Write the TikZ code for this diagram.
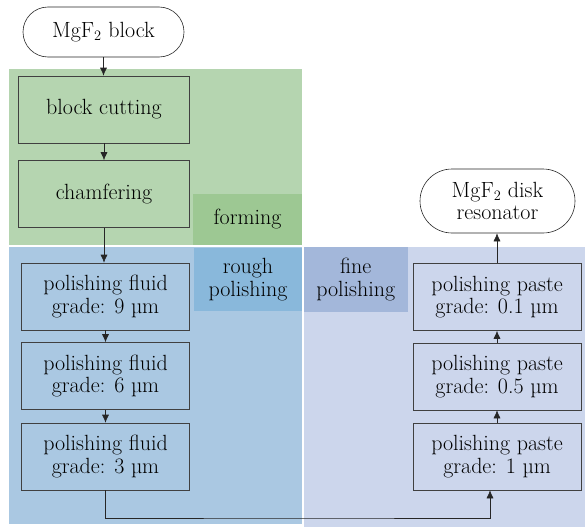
\documentclass[tikz,border=0pt]{standalone}
\usepackage{tikz}
\usetikzlibrary{arrows,arrows.meta}
\definecolor{formgreen}{RGB}{181,213,176}
\definecolor{formlabel}{RGB}{157,200,147}
\definecolor{roughblue}{RGB}{170,200,226}
\definecolor{roughlabel}{RGB}{137,184,219}
\definecolor{fineblue}{RGB}{204,214,236}
\definecolor{finelabel}{RGB}{163,183,218}
\tikzstyle{arrow} = [-{Latex[length=8pt,width=7pt]},draw=black!85,line width=0.6pt]
\tikzstyle{stepbox} = [draw=black!75,line width=0.6pt,align=center,minimum width=168pt,minimum height=67pt,inner sep=0pt]
\tikzstyle{terminal} = [draw=black!85,line width=0.6pt,align=center,inner sep=0pt,fill=white]
\tikzstyle{stagelabel} = [align=center,inner sep=0pt]

\begin{document}
\begin{tikzpicture}[x=1pt,y=-1pt,font=\fontsize{22}{22.5}\selectfont]
  \useasboundingbox (0,0) rectangle (585,527);
  % stage backgrounds
  \fill[formgreen] (9,69) rectangle (302,245);
  \fill[roughblue] (9,247) rectangle (302,524);
  \fill[fineblue] (303.5,247) rectangle (585,527);
  \node[stagelabel,fill=formlabel,minimum width=109pt,minimum height=51pt] (forming) at (247.5,219.5) {forming};
  \node[stagelabel,fill=roughlabel,minimum width=108pt,minimum height=63pt] (rough) at (248,279.5) {rough\\polishing};
  \node[stagelabel,fill=finelabel,minimum width=104.5pt,minimum height=65pt] (fine) at (355.75,279.5) {fine\\polishing};
  % forming
  \node[terminal,minimum width=161pt,minimum height=50pt,rounded corners=25pt] (block) at (103.5,32) {MgF$_2$ block};
  \node[stepbox,minimum width=171pt] (cut) at (104,109.5) {block cutting};
  \node[stepbox,minimum width=171pt] (chamfer) at (104,194) {chamfering};
  % rough polishing
  \node[stepbox] (fluid9) at (105.5,296.5) {polishing fluid\\grade: 9 µm};
  \node[stepbox] (fluid6) at (105.5,376) {polishing fluid\\grade: 6 µm};
  \node[stepbox] (fluid3) at (105.5,456.5) {polishing fluid\\grade: 3 µm};
  % fine polishing
  \node[stepbox] (paste1) at (497,456.5) {polishing paste\\grade: 1 µm};
  \node[stepbox] (paste05) at (497,376.5) {polishing paste\\grade: 0.5 µm};
  \node[stepbox] (paste01) at (497,297) {polishing paste\\grade: 0.1 µm};
  \node[terminal,minimum width=155pt,minimum height=64pt,rounded corners=32pt] (disk) at (497.5,201) {MgF$_2$ disk\\resonator};
  % connectors
  \draw[arrow] (block.south) -- (block.south |- cut.north);
  \draw[arrow] (cut.south) -- (chamfer.north);
  \draw[arrow] (chamfer.south) -- (chamfer.south |- fluid9.north);
  \draw[arrow] (fluid9.south) -- (fluid6.north);
  \draw[arrow] (fluid6.south) -- (fluid3.north);
  \draw[arrow] (fluid3.south) |- (300,518) -| ([xshift=-7pt]paste1.south);
  \draw[arrow] (paste1.north) -- (paste05.south);
  \draw[arrow] (paste05.north) -- (paste01.south);
  \draw[arrow] (paste01.north) -- (paste01.north |- disk.south);
\end{tikzpicture}
\end{document}
